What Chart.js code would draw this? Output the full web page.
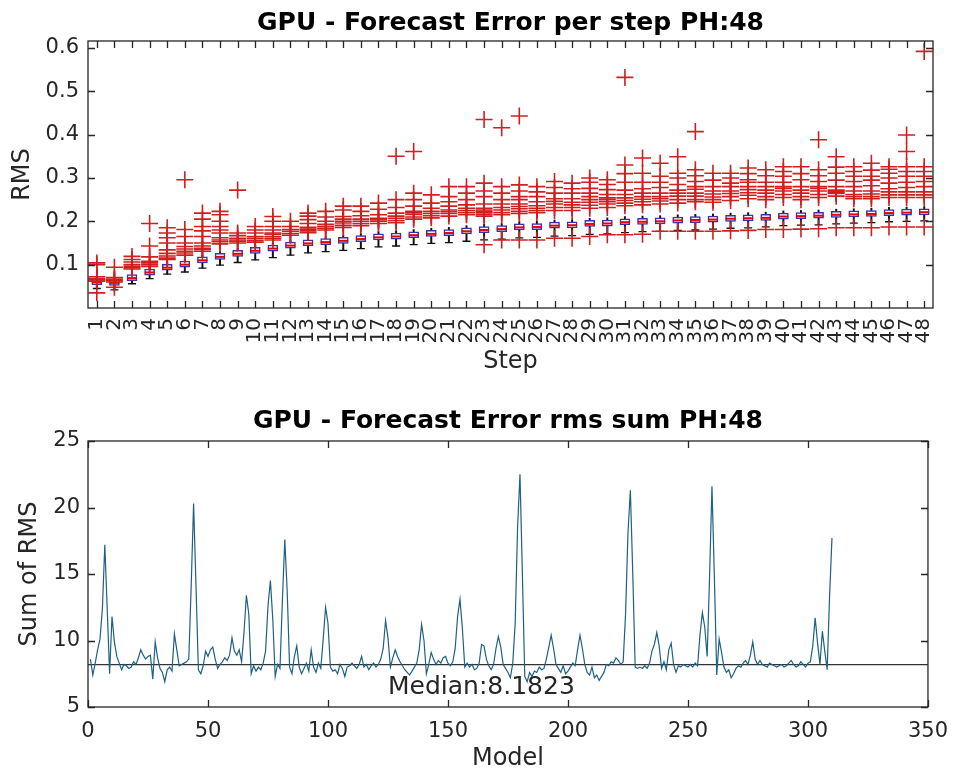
<!DOCTYPE html>
<html>
<head>
<meta charset="utf-8">
<script src="https://cdn.jsdelivr.net/npm/chart.js@4.4.1/dist/chart.umd.min.js"></script>
<style>
  body { margin: 0; background: #fff; }
  canvas { display: block; }
</style>
</head>
<body>
<canvas id="stepChart" width="960" height="388"></canvas>
<canvas id="sumChart" width="960" height="388"></canvas>
<script>
// ---- top plot: boxplot per forecast step ----
const steps = ["1","2","3","4","5","6","7","8","9","10","11","12","13","14","15","16","17","18","19","20","21","22","23","24","25","26","27","28","29","30","31","32","33","34","35","36","37","38","39","40","41","42","43","44","45","46","47","48"];
const boxMed = [0.060,0.058,0.069,0.082,0.093,0.100,0.110,0.118,0.125,0.132,0.137,0.144,0.149,0.152,0.155,0.159,0.163,0.165,0.168,0.171,0.173,0.177,0.180,0.182,0.186,0.187,0.190,0.191,0.194,0.195,0.198,0.199,0.200,0.202,0.203,0.204,0.206,0.207,0.208,0.211,0.212,0.213,0.215,0.216,0.217,0.219,0.220,0.221];
const boxQ1 = [0.054,0.052,0.063,0.076,0.087,0.094,0.104,0.112,0.119,0.126,0.131,0.138,0.143,0.146,0.149,0.153,0.157,0.159,0.162,0.165,0.167,0.171,0.174,0.176,0.180,0.181,0.184,0.185,0.188,0.189,0.192,0.193,0.194,0.196,0.197,0.198,0.200,0.201,0.202,0.205,0.206,0.207,0.209,0.210,0.211,0.213,0.214,0.215];
const boxQ3 = [0.068,0.066,0.077,0.090,0.101,0.108,0.118,0.126,0.133,0.140,0.145,0.152,0.157,0.160,0.163,0.167,0.171,0.173,0.176,0.179,0.181,0.185,0.188,0.190,0.194,0.195,0.198,0.199,0.202,0.203,0.206,0.207,0.208,0.210,0.211,0.212,0.214,0.215,0.216,0.219,0.220,0.221,0.223,0.224,0.225,0.227,0.228,0.229];
const whiskLo = [0.045,0.042,0.056,0.068,0.078,0.083,0.092,0.099,0.105,0.111,0.116,0.122,0.127,0.130,0.133,0.137,0.141,0.143,0.146,0.149,0.151,0.154,0.157,0.159,0.162,0.163,0.166,0.167,0.170,0.171,0.174,0.176,0.177,0.179,0.180,0.182,0.184,0.185,0.187,0.190,0.191,0.192,0.194,0.196,0.197,0.199,0.200,0.201];
const whiskHi = [0.073,0.071,0.082,0.095,0.106,0.113,0.123,0.131,0.138,0.145,0.150,0.157,0.162,0.165,0.168,0.172,0.176,0.178,0.181,0.184,0.186,0.190,0.193,0.195,0.199,0.200,0.203,0.204,0.207,0.208,0.211,0.212,0.213,0.215,0.216,0.217,0.219,0.220,0.221,0.224,0.225,0.226,0.228,0.229,0.230,0.232,0.233,0.234];
const outliers = [
  [0.035,0.062,0.065,0.068,0.072,0.100,0.104],
  [0.048,0.060,0.063,0.066,0.070,0.094],
  [0.090,0.093,0.096,0.100,0.106,0.112,0.119],
  [0.096,0.100,0.104,0.108,0.118,0.143,0.195],
  [0.112,0.115,0.120,0.126,0.134,0.150,0.162,0.173,0.185],
  [0.122,0.127,0.131,0.136,0.142,0.150,0.165,0.181,0.296],
  [0.131,0.135,0.138,0.143,0.150,0.165,0.178,0.188,0.205,0.219],
  [0.148,0.153,0.157,0.162,0.173,0.180,0.188,0.200,0.215,0.223],
  [0.150,0.154,0.157,0.161,0.167,0.173,0.272],
  [0.152,0.156,0.161,0.165,0.173,0.180,0.188],
  [0.157,0.161,0.165,0.170,0.173,0.180,0.188,0.200,0.211],
  [0.168,0.172,0.177,0.181,0.188,0.200],
  [0.174,0.178,0.182,0.186,0.195,0.204,0.212,0.219],
  [0.180,0.184,0.188,0.193,0.200,0.210,0.223],
  [0.186,0.191,0.196,0.200,0.205,0.211,0.226,0.235],
  [0.190,0.195,0.200,0.205,0.213,0.223,0.235],
  [0.195,0.200,0.204,0.207,0.215,0.228,0.242],
  [0.197,0.202,0.207,0.212,0.219,0.232,0.250,0.350],
  [0.205,0.210,0.216,0.220,0.223,0.235,0.250,0.265,0.361],
  [0.208,0.213,0.218,0.223,0.230,0.242,0.261],
  [0.212,0.218,0.222,0.226,0.235,0.245,0.257,0.280],
  [0.215,0.220,0.225,0.230,0.238,0.250,0.265,0.280],
  [0.146,0.212,0.216,0.220,0.223,0.226,0.230,0.240,0.257,0.270,0.288,0.435],
  [0.157,0.215,0.220,0.226,0.232,0.240,0.250,0.265,0.280,0.416],
  [0.157,0.218,0.223,0.229,0.234,0.240,0.250,0.257,0.270,0.284,0.443],
  [0.157,0.220,0.225,0.230,0.236,0.245,0.257,0.268,0.280],
  [0.161,0.225,0.232,0.240,0.246,0.252,0.265,0.278,0.292],
  [0.161,0.225,0.232,0.238,0.244,0.252,0.265,0.275,0.288],
  [0.165,0.230,0.237,0.244,0.250,0.257,0.265,0.276,0.290,0.300],
  [0.169,0.232,0.240,0.245,0.250,0.254,0.262,0.273,0.285,0.296],
  [0.169,0.236,0.242,0.248,0.254,0.262,0.272,0.290,0.310,0.330,0.532],
  [0.170,0.238,0.245,0.251,0.257,0.265,0.275,0.290,0.311,0.346],
  [0.177,0.240,0.247,0.252,0.257,0.265,0.278,0.290,0.304,0.334],
  [0.177,0.242,0.250,0.258,0.265,0.272,0.285,0.300,0.311,0.349],
  [0.177,0.245,0.250,0.258,0.265,0.274,0.280,0.292,0.305,0.319,0.407],
  [0.177,0.244,0.250,0.256,0.263,0.270,0.280,0.295,0.311],
  [0.178,0.248,0.257,0.264,0.270,0.280,0.288,0.300,0.311],
  [0.179,0.252,0.260,0.266,0.273,0.280,0.290,0.296,0.310,0.323],
  [0.181,0.250,0.257,0.265,0.272,0.280,0.290,0.305,0.319],
  [0.181,0.255,0.262,0.270,0.276,0.280,0.290,0.304,0.315,0.326],
  [0.182,0.250,0.257,0.265,0.272,0.280,0.296,0.310,0.326],
  [0.183,0.255,0.262,0.270,0.276,0.280,0.292,0.305,0.319,0.388],
  [0.185,0.258,0.264,0.267,0.269,0.272,0.280,0.295,0.311,0.325,0.349],
  [0.185,0.252,0.257,0.262,0.270,0.280,0.292,0.304,0.315,0.326],
  [0.185,0.252,0.257,0.263,0.270,0.282,0.295,0.304,0.318,0.334],
  [0.187,0.255,0.261,0.268,0.275,0.288,0.300,0.311,0.320,0.326],
  [0.187,0.255,0.261,0.268,0.278,0.290,0.304,0.315,0.326,0.361,0.399],
  [0.187,0.255,0.261,0.268,0.280,0.292,0.304,0.315,0.326,0.592]
];
const rmsTicks = [0.1, 0.2, 0.3, 0.4, 0.5, 0.6];

// ---- bottom plot: sum of rms per model ----
const rmsSum = [
  8.6,7.4,8.3,9.3,10.1,12.4,17.2,12.4,7.5,11.8,
  9.9,8.8,8.3,7.8,8.2,8.1,7.9,8.0,8.4,8.2,
  8.7,9.3,8.9,8.6,8.8,8.9,7.1,9.9,8.7,7.9,
  7.6,6.9,7.8,8.0,7.7,10.5,9.3,8.1,8.2,8.3,
  8.4,8.6,14.1,20.3,14.1,7.8,7.5,8.1,9.2,8.8,
  9.3,9.5,8.6,7.9,8.2,8.4,8.7,8.5,8.9,10.2,
  9.2,8.9,9.3,8.4,10.6,13.4,12.0,7.5,8.1,7.7,
  8.0,7.8,8.3,9.2,12.6,14.5,11.6,7.3,8.2,7.9,
  13.0,17.6,13.7,8.0,7.5,8.8,9.6,8.0,7.5,7.9,
  8.3,7.7,9.3,8.0,7.6,8.3,7.9,10.1,12.5,11.3,
  8.0,7.7,7.8,7.5,8.2,7.9,7.3,8.0,8.1,8.3,
  8.1,7.9,8.2,8.8,8.0,8.2,7.8,8.1,8.3,8.0,
  8.2,8.6,9.4,11.5,10.2,8.0,8.7,9.3,8.8,8.4,
  8.1,7.8,7.6,7.4,7.7,8.0,8.3,9.3,11.2,10.0,
  7.5,8.2,9.1,8.6,8.2,8.5,8.3,8.7,8.8,8.3,
  8.1,8.4,9.4,11.8,13.1,10.9,8.0,8.3,8.0,8.2,
  7.8,7.9,8.3,9.7,9.6,8.6,8.1,7.8,8.2,9.4,
  10.3,9.5,8.2,7.9,7.6,7.2,8.3,11.3,18.5,22.5,
  15.0,7.3,6.9,7.6,7.3,7.7,7.6,8.0,7.8,7.9,
  8.6,9.5,10.4,9.4,8.2,7.9,7.6,8.1,7.5,7.7,
  8.0,8.3,8.1,9.3,10.4,9.4,8.2,7.6,7.4,8.0,
  7.2,7.4,7.0,7.3,7.6,8.2,8.1,8.4,8.3,8.7,
  8.5,8.2,8.4,12.0,18.1,21.3,15.0,8.0,7.9,8.0,
  7.9,8.1,7.9,8.3,9.2,9.7,10.6,9.6,7.9,8.4,
  7.8,9.3,9.8,8.2,7.6,8.1,8.0,8.2,8.1,8.0,
  8.2,8.0,8.3,8.1,10.4,12.1,11.0,8.8,14.8,21.6,
  14.8,7.4,10.1,9.1,8.0,7.6,7.8,7.2,7.5,7.9,
  8.1,8.0,8.3,8.5,8.2,8.9,9.9,8.6,8.2,8.5,
  8.2,8.1,8.0,8.3,8.2,8.1,8.0,8.1,8.2,8.0,
  8.1,8.3,8.5,8.2,8.0,8.1,8.4,8.2,8.0,8.3,
  8.4,9.6,11.7,9.8,8.2,10.7,9.2,7.8,13.3,17.7
];
const medianValue = 8.1823;
const modelTicks = [0, 50, 100, 150, 200, 250, 300, 350];
const sumTicks = [5, 10, 15, 20, 25];

Chart.defaults.font.family = "'DejaVu Sans', sans-serif";
Chart.defaults.color = "#262626";
Chart.defaults.animation = false;

const INK = "#262626";

// matlab style box + inward ticks on all four sides + title
const matlabAxes = {
  id: "matlabAxes",
  afterDatasetsDraw(chart, args, opts) {
    const { ctx, chartArea: a, scales } = chart;
    const x = scales.x, y = scales.y;
    ctx.save();
    ctx.strokeStyle = INK;
    ctx.lineWidth = 1.3;
    ctx.beginPath();
    x.ticks.forEach((t, i) => {
      const px = Math.round(x.getPixelForTick(i)) + 0.5;
      ctx.moveTo(px, a.bottom); ctx.lineTo(px, a.bottom - 7);
      ctx.moveTo(px, a.top); ctx.lineTo(px, a.top + 7);
    });
    y.ticks.forEach((t, i) => {
      const py = Math.round(y.getPixelForTick(i)) + 0.5;
      ctx.moveTo(a.left, py); ctx.lineTo(a.left + 7, py);
      ctx.moveTo(a.right, py); ctx.lineTo(a.right - 7, py);
    });
    ctx.stroke();
    ctx.strokeRect(a.left, a.top, a.right - a.left, a.bottom - a.top);
    ctx.fillStyle = "#000";
    ctx.font = "bold 25px 'DejaVu Sans'";
    ctx.textAlign = "center";
    ctx.textBaseline = "alphabetic";
    ctx.fillText(opts.title, (a.left + a.right) / 2, opts.titleY);
    if (opts.note) {
      ctx.fillStyle = INK;
      ctx.font = "25px 'DejaVu Sans'";
      ctx.textAlign = "left";
      ctx.textBaseline = "middle";
      ctx.fillText(opts.note.text, x.getPixelForValue(opts.note.x), y.getPixelForValue(opts.note.y));
    }
    ctx.restore();
  }
};

// --- top chart ---
const outlierPoints = [];
outliers.forEach((vals, i) => vals.forEach(v => outlierPoints.push({ x: steps[i], y: v })));

new Chart(document.getElementById("stepChart"), {
  type: "bar",
  data: {
    labels: steps,
    datasets: [
      {
        type: "line", label: "outliers", data: outlierPoints, showLine: false,
        pointStyle: "cross", pointRadius: 8.5, borderColor: "#cf1f1f", borderWidth: 1.6, order: 0
      },
      {
        type: "line", label: "median", data: boxMed, showLine: false,
        pointStyle: "line", pointRadius: 5, borderColor: "#e60000", borderWidth: 2, order: 1
      },
      {
        label: "box", data: steps.map((s, i) => [boxQ1[i], boxQ3[i]]), grouped: false,
        backgroundColor: "#ffffff", borderColor: "#3b2fb0", borderWidth: 1.5, borderSkipped: false,
        barThickness: 10, order: 2
      },
      {
        label: "whisker", data: steps.map((s, i) => [whiskLo[i], whiskHi[i]]), grouped: false,
        backgroundColor: "#111", borderWidth: 0, barThickness: 1.3, order: 3
      },
      {
        type: "line", label: "caps", data: whiskLo, showLine: false,
        pointStyle: "line", pointRadius: 4, borderColor: "#111", borderWidth: 1.3, order: 3
      }
    ]
  },
  options: {
    responsive: false,
    devicePixelRatio: 1,
    layout: { padding: { left: 0, right: 27, top: 41, bottom: 0 } },
    plugins: {
      legend: { display: false },
      tooltip: { enabled: false },
      matlabAxes: { title: "GPU - Forecast Error per step PH:48", titleY: 30 }
    },
    scales: {
      x: {
        grid: { display: false, drawTicks: false },
        border: { display: false },
        ticks: { autoSkip: false, minRotation: 90, maxRotation: 90, padding: 10, font: { size: 20 }, color: INK },
        title: { display: true, text: "Step", font: { size: 24 }, padding: { bottom: 12 }, color: INK },
        afterFit(scale) { scale.height = 80; }
      },
      y: {
        min: 0, max: 0.616,
        grid: { display: false, drawTicks: false },
        border: { display: false },
        afterBuildTicks(scale) { scale.ticks = rmsTicks.map(v => ({ value: v })); },
        ticks: { padding: 9, font: { size: 21 }, color: INK, callback: v => v.toFixed(1) },
        title: { display: true, text: "RMS", font: { size: 24 }, padding: { top: 8 }, color: INK },
        afterFit(scale) { scale.width = 88; }
      }
    }
  },
  plugins: [matlabAxes]
});

// --- bottom chart ---
new Chart(document.getElementById("sumChart"), {
  type: "line",
  data: {
    datasets: [
      {
        label: "sum of rms", data: rmsSum.map((v, i) => ({ x: i + 1, y: v })),
        borderColor: "#1d6185", borderWidth: 1.2, pointRadius: 0, tension: 0
      },
      {
        label: "median", data: [{ x: modelTicks[0], y: medianValue }, { x: modelTicks[modelTicks.length - 1], y: medianValue }],
        borderColor: "#333", borderWidth: 1.2, pointRadius: 0
      }
    ]
  },
  options: {
    responsive: false,
    devicePixelRatio: 1,
    layout: { padding: { left: 0, right: 27, top: 53, bottom: 0 } },
    plugins: {
      legend: { display: false },
      tooltip: { enabled: false },
      matlabAxes: {
        title: "GPU - Forecast Error rms sum PH:48", titleY: 40,
        note: { text: "Median:" + medianValue, x: 125, y: 6.45 }
      }
    },
    scales: {
      x: {
        type: "linear", min: 0, max: 350,
        grid: { display: false, drawTicks: false },
        border: { display: false },
        afterBuildTicks(scale) { scale.ticks = modelTicks.map(v => ({ value: v })); },
        ticks: { padding: 12, font: { size: 21 }, color: INK, maxRotation: 0 },
        title: { display: true, text: "Model", font: { size: 24 }, padding: { bottom: 3 }, color: INK },
        afterFit(scale) { scale.height = 69; }
      },
      y: {
        min: 5, max: 25,
        grid: { display: false, drawTicks: false },
        border: { display: false },
        afterBuildTicks(scale) { scale.ticks = sumTicks.map(v => ({ value: v })); },
        ticks: { padding: 8, font: { size: 21 }, color: INK },
        title: { display: true, text: "Sum of RMS", font: { size: 24 }, padding: { top: 15 }, color: INK },
        afterFit(scale) { scale.width = 88; }
      }
    }
  },
  plugins: [matlabAxes]
});
</script>
</body>
</html>
